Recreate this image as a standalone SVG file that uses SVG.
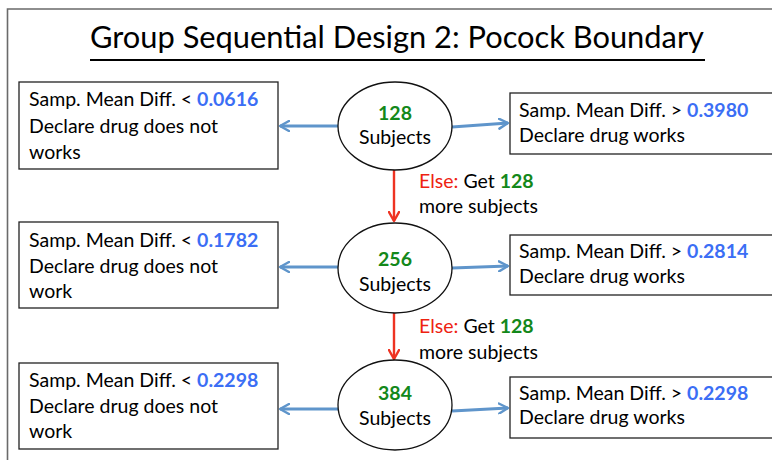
<svg xmlns="http://www.w3.org/2000/svg" width="772" height="460" viewBox="0 0 772 460">
  <defs>
    <marker id="blueHead" viewBox="0 0 12 12" refX="10" refY="6" markerWidth="12" markerHeight="12" markerUnits="userSpaceOnUse" orient="auto">
      <path d="M1,1 L10,6 L1,11" fill="none" stroke="#5f95cb" stroke-width="2.4" stroke-linecap="round" stroke-linejoin="round"/>
    </marker>
    <marker id="redHead" viewBox="0 0 12 12" refX="10" refY="6" markerWidth="12" markerHeight="12" markerUnits="userSpaceOnUse" orient="auto">
      <path d="M1,1 L10,6 L1,11" fill="none" stroke="#ee3322" stroke-width="2.4" stroke-linecap="round" stroke-linejoin="round"/>
    </marker>
  </defs>
  <style>
    text { font-family: Lato, "Open Sans", "Liberation Sans", sans-serif; fill: #000; }
    .lbl { font-size: 19.5px; }
    .num { font-size: 19.5px; font-weight: bold; }
    .blue { fill: #3b6ef5; font-weight: bold; }
    .green { fill: #13881a; font-weight: bold; }
    .red { fill: #ee2211; }
    .box { fill: #fff; stroke: #222; stroke-width: 1.3; }
    .node { fill: #fff; stroke: #111; stroke-width: 1.3; }
    .side { stroke: #5f95cb; stroke-width: 3; fill: none; marker-end: url(#blueHead); }
    .down { stroke: #ee3322; stroke-width: 2.4; fill: none; marker-end: url(#redHead); }
    .frame { stroke: #6a6a6a; stroke-width: 1.6; fill: none; }
  </style>

  <rect width="772" height="460" fill="#fff"/>
  <!-- slide frame -->
  <path class="frame" d="M772,9 L7.5,9 L7.5,460"/>

  <!-- title -->
  <g id="title">
    <text x="397" y="48" font-size="30" text-anchor="middle" textLength="614" lengthAdjust="spacingAndGlyphs">Group Sequential Design 2: Pocock Boundary</text>
    <line x1="90" y1="60" x2="705" y2="60" stroke="#000" stroke-width="2"/>
  </g>

  <!-- connectors -->
  <g id="connectors">
    <line class="side" x1="338" y1="126" x2="280" y2="126"/>
    <line class="side" x1="452" y1="127" x2="508" y2="123"/>
    <line class="down" x1="394" y1="170" x2="394" y2="221"/>
    <line class="side" x1="338" y1="267" x2="280" y2="267"/>
    <line class="side" x1="452" y1="268" x2="508" y2="266"/>
    <line class="down" x1="394" y1="312" x2="394" y2="359"/>
    <line class="side" x1="338" y1="409" x2="280" y2="409"/>
    <line class="side" x1="452" y1="411" x2="508" y2="408"/>
  </g>

  <!-- else labels -->
  <g id="else1">
    <text class="lbl" x="419" y="188"><tspan class="red">Else:</tspan> Get <tspan class="green">128</tspan></text>
    <text class="lbl" x="419" y="213">more subjects</text>
  </g>
  <g id="else2">
    <text class="lbl" x="419" y="333"><tspan class="red">Else:</tspan> Get <tspan class="green">128</tspan></text>
    <text class="lbl" x="419" y="359">more subjects</text>
  </g>

  <!-- stage 1 -->
  <g id="n128">
    <ellipse class="node" cx="395" cy="126" rx="57" ry="44"/>
    <text class="num green" x="395" y="120" text-anchor="middle">128</text>
    <text class="lbl" x="395" y="144" text-anchor="middle">Subjects</text>
  </g>
  <g id="futility1">
    <rect class="box" x="19" y="82" width="259" height="87"/>
    <text class="lbl" x="29" y="106">Samp. Mean Diff. &lt; <tspan class="blue">0.0616</tspan></text>
    <text class="lbl" x="29" y="133">Declare drug does not</text>
    <text class="lbl" x="29" y="159">works</text>
  </g>
  <g id="efficacy1">
    <rect class="box" x="510" y="93" width="270" height="61"/>
    <text class="lbl" x="519" y="117">Samp. Mean Diff. &gt; <tspan class="blue">0.3980</tspan></text>
    <text class="lbl" x="519" y="142">Declare drug works</text>
  </g>

  <!-- stage 2 -->
  <g id="n256">
    <ellipse class="node" cx="395" cy="268" rx="57" ry="45"/>
    <text class="num green" x="395" y="266" text-anchor="middle">256</text>
    <text class="lbl" x="395" y="291" text-anchor="middle">Subjects</text>
  </g>
  <g id="futility2">
    <rect class="box" x="19" y="222" width="259" height="86"/>
    <text class="lbl" x="29" y="247">Samp. Mean Diff. &lt; <tspan class="blue">0.1782</tspan></text>
    <text class="lbl" x="29" y="273">Declare drug does not</text>
    <text class="lbl" x="29" y="298">work</text>
  </g>
  <g id="efficacy2">
    <rect class="box" x="510" y="235" width="270" height="60"/>
    <text class="lbl" x="519" y="258">Samp. Mean Diff. &gt; <tspan class="blue">0.2814</tspan></text>
    <text class="lbl" x="519" y="283">Declare drug works</text>
  </g>

  <!-- stage 3 -->
  <g id="n384">
    <ellipse class="node" cx="395" cy="405" rx="57" ry="45"/>
    <text class="num green" x="395" y="400" text-anchor="middle">384</text>
    <text class="lbl" x="395" y="425" text-anchor="middle">Subjects</text>
  </g>
  <g id="futility3">
    <rect class="box" x="19" y="363" width="259" height="86"/>
    <text class="lbl" x="29" y="387">Samp. Mean Diff. &lt; <tspan class="blue">0.2298</tspan></text>
    <text class="lbl" x="29" y="413">Declare drug does not</text>
    <text class="lbl" x="29" y="438">work</text>
  </g>
  <g id="efficacy3">
    <rect class="box" x="510" y="377" width="270" height="61"/>
    <text class="lbl" x="519" y="400">Samp. Mean Diff. &gt; <tspan class="blue">0.2298</tspan></text>
    <text class="lbl" x="519" y="424">Declare drug works</text>
  </g>
</svg>
